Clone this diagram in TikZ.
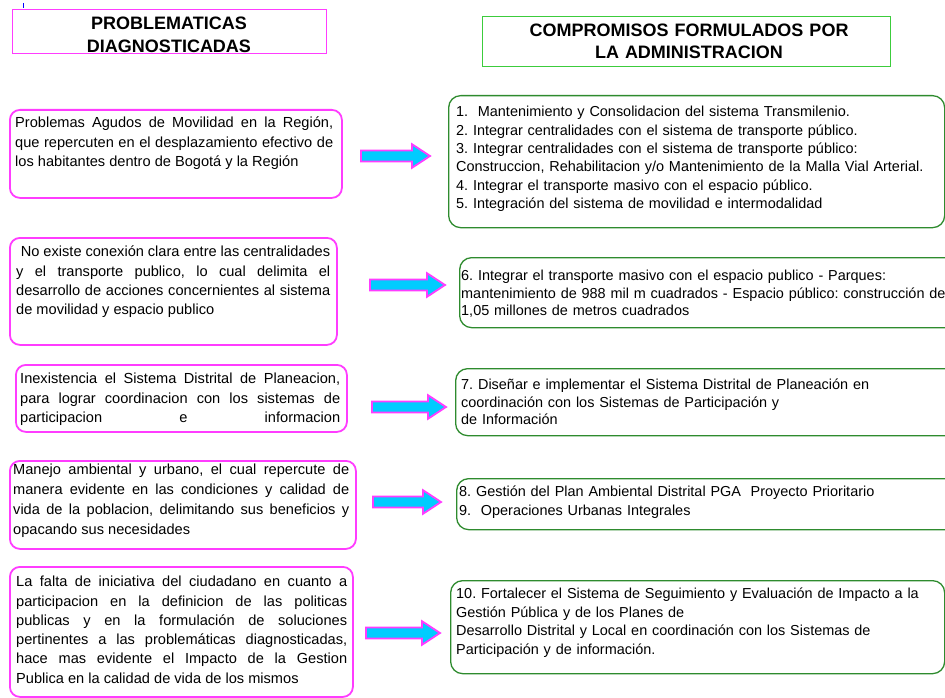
\documentclass[tikz,border=0pt]{standalone}
\usepackage{fontspec}
\setmainfont{Liberation Sans}
\frenchspacing
\hyphenpenalty=10000
\tolerance=10000
\definecolor{magcol}{HTML}{FF3CFF}
\definecolor{cyn}{HTML}{00CCFF}
\definecolor{grn}{HTML}{2E8B2E}
\definecolor{hgrn}{HTML}{3CCC3C}
\begin{document}
\begin{tikzpicture}[x=1pt,y=-1pt,
  lbox/.style={draw=magcol, line width=1.8pt, rounded corners=10pt, anchor=north west, inner sep=0pt},
  rbox/.style={draw=grn, line width=1.3pt, rounded corners=12pt, anchor=north west, inner sep=0pt},
  hbox/.style={line width=1.3pt, anchor=north west, inner sep=0pt},
  ltext/.style={anchor=north west, inner sep=0pt, align=justify},
  rtext/.style={anchor=north west, inner sep=0pt, align=left, text width=620pt},
  hdr/.style={anchor=north, inner sep=0pt, align=center, text width=420pt},
  arrowstyle/.style={draw=magcol, fill=cyn, line width=1.8pt, line join=miter},
  pics/barrow/.style={code={\draw[arrowstyle] (0,-5.5) -- ({#1-18},-5.5) -- ({#1-18},-11.8) -- (#1,0) -- ({#1-18},11.8) -- ({#1-18},5.5) -- (0,5.5) -- cycle;}}
]
\useasboundingbox (0,0) rectangle (945,698);
\fill[white] (0,0) rectangle (945,698);

% small blue tick
\draw[blue, line width=0.8pt] (23,3) -- (23,8);

% headers
\node[hbox, draw=magcol, minimum width=314pt, minimum height=44pt] (hl) at (12,9) {};
\node[hdr, font=\bfseries\fontsize{18}{23}\selectfont] (hlt) at (169,13.4) {\strut PROBLEMATICAS\\DIAGNOSTICADAS};
\node[hbox, draw=hgrn, minimum width=408pt, minimum height=50pt] (hr) at (482,16) {};
\node[hdr, font=\bfseries\fontsize{18}{22}\selectfont] (hrt) at (689,21.1) {\strut COMPROMISOS FORMULADOS POR\\LA ADMINISTRACION};

% left boxes
\node[lbox, minimum width=332pt, minimum height=88pt] (l1) at (9,109) {};
\node[ltext, text width=318pt, font=\fontsize{14.6}{19.5}\selectfont] (l1t) at (15,114) {\strut Problemas Agudos de Movilidad en la Región,\linebreak que repercuten en el desplazamiento efectivo de\linebreak los habitantes dentro de Bogotá y la Región};

\node[lbox, minimum width=327pt, minimum height=107pt] (l2) at (9,237) {};
\node[ltext, text width=314pt, font=\fontsize{14.6}{19.3}\selectfont] (l2t) at (16,243) {\strut\hspace*{4.7pt}No existe conexión clara entre las centralidades\linebreak y el transporte publico, lo cual delimita el\linebreak desarrollo de acciones concernientes al sistema\linebreak de movilidad y espacio publico};

\node[lbox, minimum width=331pt, minimum height=67pt] (l3) at (15,364) {};
\node[ltext, text width=320pt, font=\fontsize{14.6}{19.5}\selectfont] (l3t) at (20,370) {\strut Inexistencia el Sistema Distrital de Planeacion,\linebreak para lograr coordinacion con los sistemas de\linebreak participacion \hfill e \hfill informacion};

\node[lbox, minimum width=346pt, minimum height=88pt] (l4) at (9,460) {};
\node[ltext, text width=336pt, font=\fontsize{14.6}{20}\selectfont] (l4t) at (13,460.5) {\strut Manejo ambiental y urbano, el cual repercute de\linebreak manera evidente en las condiciones y calidad de\linebreak vida de la poblacion, delimitando sus beneficios y\linebreak opacando sus necesidades};

\node[lbox, minimum width=343pt, minimum height=130pt] (l5) at (9,566) {};
\node[ltext, text width=331pt, font=\fontsize{14.6}{19.3}\selectfont] (l5t) at (16,573) {\strut La falta de iniciativa del ciudadano en cuanto a\linebreak participacion en la definicion de las politicas\linebreak publicas y en la formulación de soluciones\linebreak pertinentes a las problemáticas diagnosticadas,\linebreak hace mas evidente el Impacto de la Gestion\linebreak Publica en la calidad de vida de los mismos};

% right boxes
\node[rbox, minimum width=496pt, minimum height=132pt] (r1) at (448,95) {};
\node[rtext, font=\fontsize{14.45}{18.4}\selectfont] (r1t) at (456,103.6) {\strut 1.\ \ Mantenimiento y Consolidacion del sistema Transmilenio.\\
2. Integrar centralidades con el sistema de transporte público.\\
3. Integrar centralidades con el sistema de transporte público:\\
Construccion, Rehabilitacion y/o Mantenimiento de la Malla Vial Arterial.\\
4. Integrar el transporte masivo con el espacio público.\\
5. Integración del sistema de movilidad e intermodalidad};

\node[rbox, minimum width=520pt, minimum height=70pt] (r2) at (459,257) {};
\node[rtext, font=\fontsize{14.45}{17.3}\selectfont] (r2t) at (461,268.4) {\strut 6. Integrar el transporte masivo con el espacio publico - Parques:\\
mantenimiento de 988 mil m cuadrados - Espacio público: construcción de\\
1,05 millones de metros cuadrados};

\node[rbox, minimum width=520pt, minimum height=67pt] (r3) at (455,368) {};
\node[rtext, font=\fontsize{14.45}{17.5}\selectfont] (r3t) at (461,377.3) {\strut 7. Diseñar e implementar el Sistema Distrital de Planeación en\\
coordinación con los Sistemas de Participación y\\
de Información};

\node[rbox, minimum width=520pt, minimum height=51pt] (r4) at (456,478) {};
\node[rtext, font=\fontsize{14.45}{18.3}\selectfont] (r4t) at (459,483.7) {\strut 8. Gestión del Plan Ambiental Distrital PGA\ \ Proyecto Prioritario\\
9.\ \ Operaciones Urbanas Integrales};

\node[rbox, minimum width=494pt, minimum height=93pt] (r5) at (450,580) {};
\node[rtext, font=\fontsize{14.45}{18.5}\selectfont] (r5t) at (456,585.5) {\strut 10. Fortalecer el Sistema de Seguimiento y Evaluación de Impacto a la\\
Gestión Pública y de los Planes de\\
Desarrollo Distrital y Local en coordinación con los Sistemas de\\
Participación y de información.};

% block arrows
\pic (a1) at (361,156) {barrow=69};
\pic (a2) at (370,285) {barrow=75};
\pic (a3) at (372,407) {barrow=74};
\pic (a4) at (373,502) {barrow=68};
\pic (a5) at (366,633) {barrow=74};
\end{tikzpicture}
\end{document}
